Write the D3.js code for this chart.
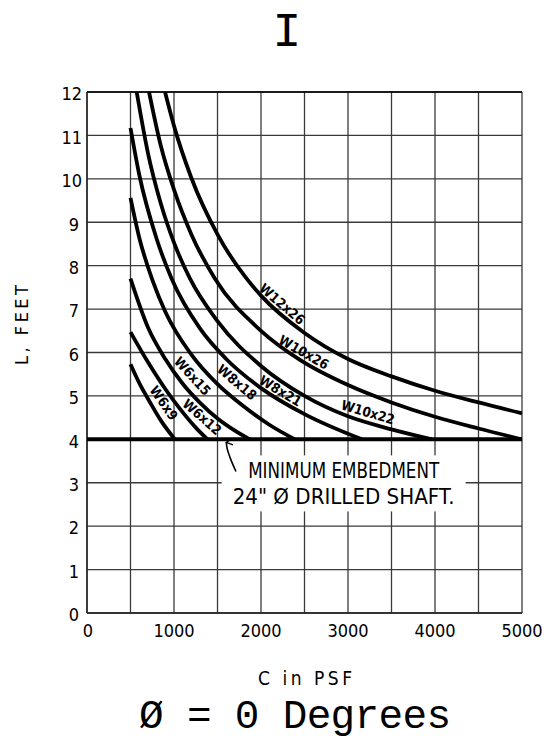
<!DOCTYPE html>
<html><head><meta charset="utf-8">
<script src="https://cdn.jsdelivr.net/npm/d3@7"></script>
<style>
body{margin:0;background:#fff}
text{fill:#000}
.cad{font-family:"DejaVu Sans Condensed","Roboto","DejaVu Sans",sans-serif;}
</style>
</head><body><svg id="chart" width="549" height="748"></svg>
<script>
// ---------- data ----------
const xTicks = [0, 1000, 2000, 3000, 4000, 5000];
const xGrid = [0, 500, 1000, 1500, 2000, 2500, 3000, 3500, 4000, 4500, 5000];
const yTicks = [0, 1, 2, 3, 4, 5, 6, 7, 8, 9, 10, 11, 12];
const minEmbedment = 4;

const W6x9  = [[500,5.73],[600,5.3],[725,4.85],[850,4.43],[1010,4.0]];
const W6x12 = [[500,6.47],[700,5.78],[900,5.16],[1069,4.7],[1250,4.27],[1385,4.0]];
const W6x15 = [[500,7.7],[700,6.58],[900,5.85],[1100,5.28],[1300,4.84],[1500,4.48],[1700,4.2],[1870,4.0]];
const W8x18 = [[500,9.56],[600,8.65],[750,7.68],[900,6.94],[1200,5.95],[1500,5.27],[1800,4.76],[2100,4.33],[2390,4.0]];
const W8x21 = [[500,11.17],[600,10.1],[800,8.62],[973,7.7],[1300,6.55],[1600,5.85],[2000,5.18],[2500,4.58],[3160,4.0]];
const W10x22 = [[571,12],[700,10.6],[850,9.42],[1000,8.53],[1184,7.7],[1500,6.72],[2000,5.69],[2500,5.0],[3000,4.53],[3500,4.23],[3965,4.0]];
const W10x26 = [[713,12],[850,10.75],[1000,9.75],[1200,8.72],[1471,7.7],[2000,6.5],[2448,5.83],[3000,5.25],[3500,4.85],[4000,4.52],[4500,4.25],[5000,4.0]];
const W12x26 = [[897,12],[1000,11.22],[1200,10.02],[1500,8.72],[1835,7.7],[2000,7.31],[2500,6.45],[3000,5.85],[3500,5.45],[4000,5.12],[4500,4.85],[5000,4.6]];

const curveNames = ["W6x9","W6x12","W6x15","W8x18","W8x21","W10x22","W10x26","W12x26"];
const curveData  = [W6x9, W6x12, W6x15, W8x18, W8x21, W10x22, W10x26, W12x26];
// label centres, read in data units (C, L)
const labelPos = [[885,4.84],[1325,4.52],[1215,5.46],[1725,5.32],[2226,5.12],[3230,4.63],[2494,6.01],[2245,7.12]];

const noteLines = ["MINIMUM EMBEDMENT", "24\" \u00D8 DRILLED SHAFT."];
const noteAt = [2950, 3.1];
const arrowPath = [[1712,3.26],[1650,3.55],[1612,3.78],[1601,3.93]];

const topSymbol = "I";
const xTitle = "C in PSF";
const yTitle = "L, FEET";
const mainTitle = "\u00D8 = 0 Degrees";

// ---------- layout ----------
const W = 549, H = 748;
const m = {left: 87, right: 27, top: 92, bottom: 135};
const svg = d3.select("#chart");
const x = d3.scaleLinear().domain([0, 5000]).range([m.left, W - m.right]);
const y = d3.scaleLinear().domain([0, 12]).range([H - m.bottom, m.top]);

svg.append("defs").append("clipPath").attr("id","plot")
  .append("rect").attr("x", x(0)).attr("y", y(12)).attr("width", x(5000)-x(0)).attr("height", y(0)-y(12));

// grid
const g = svg.append("g");
g.selectAll(".vg").data(xGrid).join("line")
  .attr("x1", d => x(d)).attr("x2", d => x(d)).attr("y1", y(0)).attr("y2", y(12))
  .attr("stroke", "#3a3a3a").attr("stroke-width", 1.3);
g.selectAll(".hg").data(yTicks).join("line")
  .attr("x1", x(0)).attr("x2", x(5000)).attr("y1", d => y(d)).attr("y2", d => y(d))
  .attr("stroke", "#3a3a3a").attr("stroke-width", 1.3);
svg.append("line").attr("x1", x(0)).attr("x2", x(5000)).attr("y1", y(12)).attr("y2", y(12)).attr("stroke","#000").attr("stroke-width",1.6);
svg.append("line").attr("x1", x(0)).attr("x2", x(0)).attr("y1", y(0)).attr("y2", y(12)).attr("stroke","#222").attr("stroke-width",1.4);
svg.append("line").attr("x1", x(0)).attr("x2", x(5000)).attr("y1", y(0)).attr("y2", y(0)).attr("stroke","#222").attr("stroke-width",1.4);

// note box (white background breaking grid)
const noteG = svg.append("g").attr("class","cad");
const noteText = noteG.append("text")
  .attr("x", x(noteAt[0])).attr("y", y(noteAt[1]))
  .attr("text-anchor","middle").attr("font-size", 21);
const noteWidths = [191, 222];
noteLines.forEach((t,i) => noteText.append("tspan").attr("x", x(noteAt[0])).attr("dy", i === 0 ? 0 : 26)
  .attr("textLength", noteWidths[i]).attr("lengthAdjust","spacingAndGlyphs").text(t));
const bb = noteText.node().getBBox();
noteG.insert("rect", "text").attr("x", bb.x - 11).attr("y", bb.y - 4).attr("width", bb.width + 22).attr("height", bb.height + 6).attr("fill","#fff");

// arrow
svg.append("defs").append("marker").attr("id","ah").attr("viewBox","0 0 10 10")
  .attr("refX", 5).attr("refY", 1).attr("markerWidth", 8).attr("markerHeight", 10)
  .attr("orient","auto-start-reverse").attr("markerUnits","userSpaceOnUse")
  .append("path").attr("d","M1,9 L5,1 L9,9").attr("fill","none").attr("stroke","#000").attr("stroke-width",1.6);
svg.append("path")
  .attr("d", d3.line().x(d => x(d[0])).y(d => y(d[1])).curve(d3.curveCatmullRom)(arrowPath))
  .attr("fill","none").attr("stroke","#000").attr("stroke-width",1.6)
  .attr("marker-end","url(#ah)");

// min embedment line
svg.append("line").attr("x1", x(0)).attr("x2", x(5000)).attr("y1", y(minEmbedment)).attr("y2", y(minEmbedment))
  .attr("stroke","#000").attr("stroke-width",4);

// curves
const line = d3.line().x(d => x(d[0])).y(d => y(d[1])).curve(d3.curveMonotoneX);
svg.append("g").attr("clip-path","url(#plot)").selectAll("path").data(curveData).join("path")
  .attr("d", line).attr("fill","none").attr("stroke","#000").attr("stroke-width",3.8).attr("stroke-linecap","butt");

// labels
function interp(data, c) {
  c = Math.max(data[0][0], Math.min(data[data.length-1][0], c));
  for (let i = 0; i < data.length - 1; i++) {
    const [c0, l0] = data[i], [c1, l1] = data[i+1];
    if (c >= c0 && c <= c1) return l0 + (l1 - l0) * (c - c0) / (c1 - c0);
  }
  return data[data.length-1][1];
}
curveNames.forEach((name, i) => {
  const d = curveData[i], [c, l] = labelPos[i];
  const dx = x(c + 80) - x(c - 80), dy = y(interp(d, c + 80)) - y(interp(d, c - 80));
  const th = Math.atan2(dy, dx);
  svg.append("text").attr("class","cad")
    .attr("transform", `translate(${x(c)},${y(l)}) rotate(${th * 180 / Math.PI})`)
    .attr("text-anchor","middle").attr("dominant-baseline","central")
    .attr("font-size", 13.5).attr("font-weight","bold").text(name);
});

// tick labels
svg.append("g").attr("class","cad").selectAll("text").data(yTicks).join("text")
  .attr("x", d => m.left - (d < 10 ? 8 : 5)).attr("y", d => y(d) + 2).attr("dy","0.35em")
  .attr("text-anchor","end").attr("font-size", 18).text(d => d);
svg.append("g").attr("class","cad").selectAll("text").data(xTicks).join("text")
  .attr("x", d => x(d) + (d === 0 ? 1 : 0)).attr("y", y(0) + 24)
  .attr("text-anchor","middle").attr("font-size", 18).text(d => d);

// titles
svg.append("text").attr("class","cad").attr("x", 305).attr("y", 685)
  .attr("text-anchor","middle").attr("font-size", 19)
  .attr("textLength", 94).attr("lengthAdjust","spacing").text(xTitle);
svg.append("text").attr("class","cad").attr("transform", `translate(28,325) rotate(-90)`)
  .attr("text-anchor","middle").attr("font-size", 18)
  .attr("textLength", 80).attr("lengthAdjust","spacing").text(yTitle);
svg.append("text").attr("x", 295).attr("y", 728).attr("text-anchor","middle")
  .attr("font-family","Liberation Mono, DejaVu Sans Mono, monospace").attr("font-size", 41)
  .attr("textLength", 312).attr("lengthAdjust","spacing").text(mainTitle);
svg.append("text").attr("x", 287).attr("y", 46).attr("text-anchor","middle")
  .attr("font-family","Liberation Mono, DejaVu Sans Mono, monospace").attr("font-size", 48).text(topSymbol);
</script>
</body></html>
